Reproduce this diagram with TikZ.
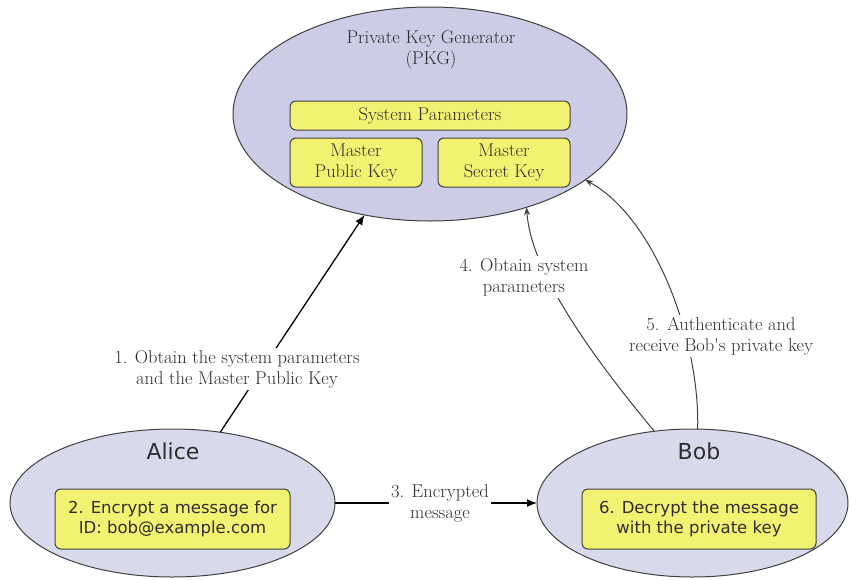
\documentclass[tikz,border=0pt]{standalone}
\usepackage{fontspec}
\newfontfamily\dejavu{DejaVu Sans}
\usetikzlibrary{shapes.geometric,arrows.meta}
\definecolor{pkgfill}{HTML}{CCCCE6}
\definecolor{userfill}{HTML}{D9D9EC}
\definecolor{boxfill}{HTML}{F2F272}
\definecolor{edge}{HTML}{404040}
\definecolor{txt}{HTML}{2E2E2E}
\tikzset{
  bigell/.style={ellipse, draw=edge, line width=1pt, inner sep=0pt, outer sep=0pt},
  ybox/.style={draw=edge, fill=boxfill, line width=1pt, rounded corners=6pt, inner sep=0pt, align=center, text=txt},
  serif/.style={font=\fontsize{18.5}{21}\selectfont, text=txt, align=center},
  sans/.style={font=\dejavu\fontsize{16.5}{20}\selectfont, text=txt, align=center},
  lbl/.style={serif, fill=white, inner sep=2pt},
  blackarrow/.style={line width=1.3pt, black, -{Latex[length=10pt,width=8pt]}},
  grayarrow/.style={line width=1pt, color=edge, -{Stealth[length=8pt,width=6pt]}}
}
\begin{document}
\begin{tikzpicture}[x=1pt,y=-1pt]
\useasboundingbox (0,0) rectangle (849,579);
% ellipses
\node[bigell, fill=pkgfill, minimum width=394pt, minimum height=214pt] (pkg) at (430,114) {};
\node[bigell, fill=userfill, minimum width=325pt, minimum height=148pt] (alice) at (172.5,503) {};
\node[bigell, fill=userfill, minimum width=311pt, minimum height=148pt] (bob) at (692.5,503) {};
% PKG content
\node[serif] (pkgtitle) at (431,50) {Private Key Generator\\(PKG)};
\node[ybox, serif, minimum width=280pt, minimum height=29pt] (sysp) at (430,115.5) {System Parameters};
\node[ybox, serif, minimum width=132pt, minimum height=49pt] (mpk) at (356,162.5) {Master\\Public Key};
\node[ybox, serif, minimum width=132pt, minimum height=49pt] (msk) at (504,162.5) {Master\\Secret Key};
% users
\node[sans, font=\dejavu\fontsize{22}{26}\selectfont] (alicet) at (173,451) {Alice};
\node[sans, font=\dejavu\fontsize{22}{26}\selectfont] (bobt) at (699,451) {Bob};
\node[ybox, sans, minimum width=235pt, minimum height=60pt] (abox) at (172.5,519) {2. Encrypt a message for\\ID: bob@example.com};
\node[ybox, sans, minimum width=234pt, minimum height=60pt] (bbox) at (699,519) {6. Decrypt the message\\with the private key};
% connectors
\draw[blackarrow] (alice.56.2) -- (pkg.237.5);
\node[lbl] (l1) at (237,369) {1. Obtain the system parameters\\and the Master Public Key};
\draw[blackarrow] (alice.east) -- (bob.west);
\node[lbl] (l3) at (440,503) {3. Encrypted\\message};
\draw[grayarrow] (bob.118.2) .. controls (570,330) and (530,260) .. (pkg.316.2);
\node[lbl] (l4) at (524,277) {4. Obtain system\\parameters};
\draw[grayarrow] (bob.86) .. controls (700,340) and (655,218) .. (pkg.337.2);
\node[lbl] (l5) at (721,336) {5. Authenticate and\\receive Bob\textquotesingle s private key};
\end{tikzpicture}
\end{document}
